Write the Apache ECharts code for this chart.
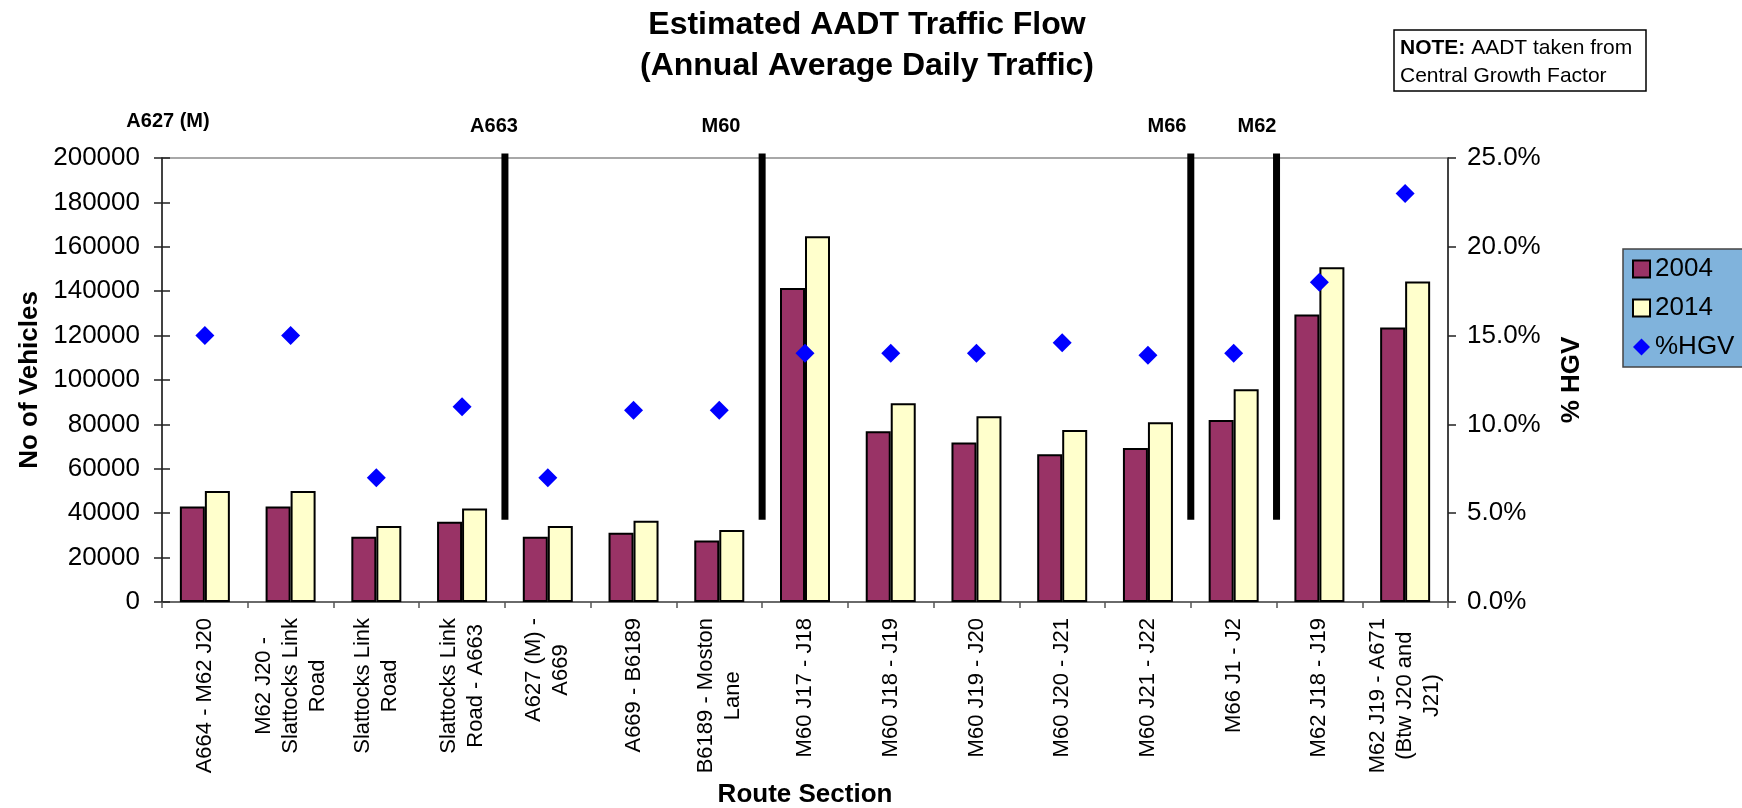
<!DOCTYPE html>
<html>
<head>
<meta charset="utf-8">
<title>Estimated AADT Traffic Flow</title>
<script src="https://cdn.jsdelivr.net/npm/echarts@6/dist/echarts.min.js"></script>
<style>
  html, body { margin: 0; padding: 0; background: #ffffff; }
  #chart { width: 1742px; height: 808px; }
</style>
</head>
<body>
<div id="chart"></div>
<script>
// Route sections along the corridor (line breaks as printed on the axis)
const routeSections = [
  'A664 - M62 J20',
  'M62 J20 -\nSlattocks Link\nRoad',
  'Slattocks Link\nRoad',
  'Slattocks Link\nRoad - A663',
  'A627 (M) -\nA669',
  'A669 - B6189',
  'B6189 - Moston\nLane',
  'M60 J17 - J18',
  'M60 J18 - J19',
  'M60 J19 - J20',
  'M60 J20 - J21',
  'M60 J21 - J22',
  'M66 J1 - J2',
  'M62 J18 - J19',
  'M62 J19 - A671\n(Btw J20 and\nJ21)'
];

// Annual average daily traffic, vehicles per day
const aadt2004 = [43000, 43000, 29400, 36100, 29400, 31200, 27700, 141400, 76900, 71800, 66600, 69400, 82000, 129500, 123700];
const aadt2014 = [50000, 50000, 34200, 42100, 34200, 36600, 32400, 164800, 89500, 83700, 77500, 81000, 95800, 150800, 144400];

// Share of heavy goods vehicles
const hgvShare = [0.15, 0.15, 0.07, 0.11, 0.07, 0.108, 0.108, 0.14, 0.14, 0.14, 0.146, 0.139, 0.14, 0.18, 0.23];

// Axis ticks
const vehicleTicks = [0, 20000, 40000, 60000, 80000, 100000, 120000, 140000, 160000, 180000, 200000];
const hgvTicks = [0, 0.05, 0.10, 0.15, 0.20, 0.25];

// Road changes: divider positions (category boundaries) and their vertical extent
const roadBreaks = [4, 7, 12, 13];
const dividerBottom = 37000;
const dividerTop = 202000;

// Road names printed above the plot
const roadNames = ['A627 (M)', 'A663', 'M60', 'M66', 'M62'];
const roadNameX = [168, 494, 721, 1167, 1257];
const roadNameY = [121, 126, 126, 126, 126];

const FONT = '"Liberation Sans", Arial, Helvetica, sans-serif';

const chart = echarts.init(document.getElementById('chart'), null, { renderer: 'canvas' });

const vMin = vehicleTicks[0], vMax = vehicleTicks[vehicleTicks.length - 1];
const vStep = vehicleTicks[1] - vehicleTicks[0];
const hMin = hgvTicks[0], hMax = hgvTicks[hgvTicks.length - 1];
const hStep = hgvTicks[1] - hgvTicks[0];

const dividerSeries = roadBreaks.map(function (b) {
  return {
    type: 'line',
    name: 'road break',
    xAxisIndex: 1,
    yAxisIndex: 0,
    data: [[b, dividerBottom], [b, dividerTop]],
    symbol: 'none',
    clip: false,
    silent: true,
    z: 6,
    lineStyle: { color: '#000000', width: 7, cap: 'butt' },
    emphasis: { disabled: true }
  };
});

const option = {
  backgroundColor: '#ffffff',
  animation: false,
  textStyle: { fontFamily: FONT },
  title: [
    {
      text: 'Estimated AADT Traffic Flow\n(Annual Average Daily Traffic)',
      left: 862,
      textAlign: 'center',
      top: 0,
      textStyle: { fontSize: 32, fontWeight: 'bold', lineHeight: 41, color: '#000', fontFamily: FONT }
    },
    {
      text: '{b|NOTE:} AADT taken from\nCentral Growth Factor',
      left: 1394,
      top: 30,
      padding: [4, 14, 1, 6],
      borderColor: '#000',
      borderWidth: 1.5,
      textStyle: {
        fontSize: 21, fontWeight: 'normal', lineHeight: 28, color: '#000', fontFamily: FONT,
        rich: { b: { fontSize: 21, fontWeight: 'bold', color: '#000', fontFamily: FONT } }
      }
    }
  ],
  legend: {
    orient: 'vertical',
    left: 1623,
    top: 249,
    padding: [7, 40, 7, 9],
    itemGap: 13,
    itemWidth: 17,
    itemHeight: 17,
    backgroundColor: '#80B3DC',
    borderColor: '#444',
    borderWidth: 1.5,
    selectedMode: false,
    textStyle: { fontSize: 26, color: '#000', fontFamily: FONT },
    data: [
      { name: '2004', icon: 'rect' },
      { name: '2014', icon: 'rect' },
      { name: '%HGV', icon: 'diamond' }
    ]
  },
  grid: {
    left: 162, right: 294, top: 158, bottom: 206,
    containLabel: false,
    outerBoundsMode: 'none',
    show: true, borderColor: '#8c8c8c', borderWidth: 1.5, backgroundColor: '#ffffff'
  },
  xAxis: [
    {
      type: 'category',
      data: routeSections,
      name: 'Route Section',
      nameLocation: 'middle',
      nameGap: 180,
      nameTextStyle: { fontSize: 26, fontWeight: 'bold', color: '#000', fontFamily: FONT },
      axisLine: { show: true, lineStyle: { color: '#555', width: 1.5 } },
      axisTick: { show: true, length: 6, lineStyle: { color: '#555', width: 1.5 } },
      axisLabel: {
        interval: 0,
        rotate: 90,
        margin: 16,
        color: '#000',
        fontSize: 22,
        lineHeight: 27,
        fontFamily: FONT,
        formatter: function (v) {
          return v.split('\n').map(function (s) { return '{c|' + s + '}'; }).join('\n');
        },
        rich: { c: { align: 'center', fontSize: 22, lineHeight: 27, color: '#000', fontFamily: FONT } }
      },
      splitLine: { show: false }
    },
    {
      type: 'value',
      min: 0,
      max: routeSections.length,
      show: false
    },
    {
      type: 'category',
      data: routeSections,
      axisLine: { show: false },
      axisTick: { show: true, inside: true, length: 5, lineStyle: { color: '#555', width: 1.5 } },
      axisLabel: { show: false },
      splitLine: { show: false }
    }
  ],
  yAxis: [
    {
      type: 'value',
      position: 'left',
      min: vMin, max: vMax, interval: vStep,
      name: 'No of Vehicles',
      nameLocation: 'middle',
      nameRotate: 90,
      nameGap: 119,
      nameTextStyle: { fontSize: 26, fontWeight: 'bold', color: '#000', fontFamily: FONT },
      axisLine: { show: true, lineStyle: { color: '#222', width: 1.5 } },
      axisTick: { show: true, length: 8, lineStyle: { color: '#222', width: 1.5 } },
      axisLabel: {
        fontSize: 26, color: '#000', margin: 22, fontFamily: FONT,
        formatter: function (v) { return String(v); }
      },
      splitLine: { show: false }
    },
    {
      type: 'value',
      position: 'right',
      min: hMin, max: hMax, interval: hStep,
      name: '% HGV',
      nameLocation: 'middle',
      nameRotate: 90,
      nameGap: 111,
      nameTextStyle: { fontSize: 26, fontWeight: 'bold', color: '#000', fontFamily: FONT },
      axisLine: { show: true, lineStyle: { color: '#222', width: 1.5 } },
      axisTick: { show: true, length: 8, lineStyle: { color: '#222', width: 1.5 } },
      axisLabel: {
        fontSize: 26, color: '#000', margin: 19, fontFamily: FONT,
        formatter: function (v) { return (v * 100).toFixed(1) + '%'; }
      },
      splitLine: { show: false }
    },
    {
      type: 'value',
      position: 'left',
      min: vMin, max: vMax, interval: vStep,
      axisLine: { show: false },
      axisTick: { show: true, inside: true, length: 8, lineStyle: { color: '#222', width: 1.5 } },
      axisLabel: { show: false },
      splitLine: { show: false }
    }
  ],
  series: [
    {
      name: '2004',
      type: 'bar',
      xAxisIndex: 0,
      yAxisIndex: 0,
      data: aadt2004,
      barWidth: 25,
      barGap: '0%',
      itemStyle: { color: '#993366', borderColor: '#000', borderWidth: 2 }
    },
    {
      name: '2014',
      type: 'bar',
      xAxisIndex: 0,
      yAxisIndex: 0,
      data: aadt2014,
      barWidth: 25,
      barGap: '0%',
      itemStyle: { color: '#FFFFCC', borderColor: '#000', borderWidth: 2 }
    },
    {
      name: '%HGV',
      type: 'scatter',
      xAxisIndex: 0,
      yAxisIndex: 1,
      data: hgvShare,
      symbol: 'diamond',
      symbolSize: 19,
      z: 7,
      itemStyle: { color: '#0000FF', opacity: 1 }
    }
  ].concat(dividerSeries),
  graphic: roadNames.map(function (name, i) {
    return {
      type: 'text',
      x: roadNameX[i],
      y: roadNameY[i],
      style: {
        text: name,
        font: 'bold 20px ' + FONT,
        fill: '#000',
        textAlign: 'center',
        textVerticalAlign: 'middle'
      }
    };
  })
};

chart.setOption(option);
</script>
</body>
</html>
